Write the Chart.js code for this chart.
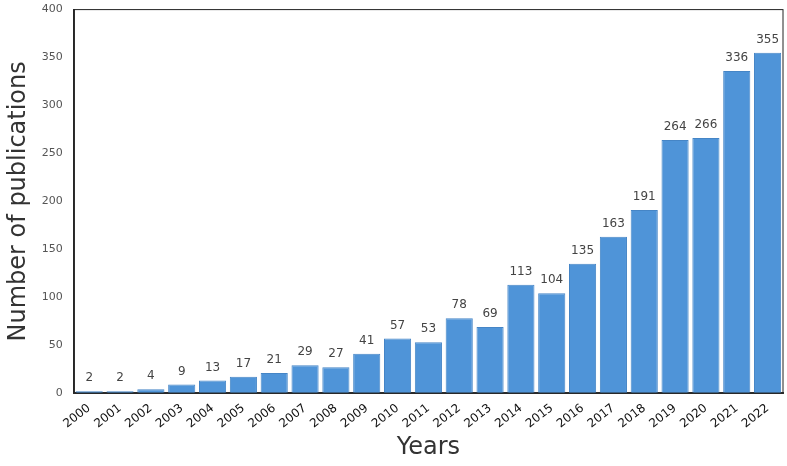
<!DOCTYPE html>
<html><head><meta charset="utf-8">
<script src="https://cdn.jsdelivr.net/npm/chart.js"></script>
<style>html,body{margin:0;padding:0;background:#fff}#w{width:787px;height:466px}</style>
</head><body><div id="w"><canvas id="c"></canvas></div>
<script>
const years=['2000','2001','2002','2003','2004','2005','2006','2007','2008','2009','2010','2011','2012','2013','2014','2015','2016','2017','2018','2019','2020','2021','2022'];
const counts=[2,2,4,9,13,17,21,29,27,41,57,53,78,69,113,104,135,163,191,264,266,336,355];
const labelsPlugin={id:'lbl',afterDatasetsDraw(ch){const ctx=ch.ctx;ctx.save();ctx.font='12px "DejaVu Sans"';ctx.fillStyle='#444';ctx.textAlign='center';ctx.textBaseline='bottom';
ch.getDatasetMeta(0).data.forEach((b,i)=>{ctx.fillText(counts[i],b.x,b.y-7);});ctx.restore();}};
const boxPlugin={id:'box',afterDraw(ch){const a=ch.chartArea,ctx=ch.ctx;ctx.save();ctx.strokeStyle='#222';ctx.lineWidth=1;ctx.strokeRect(a.left,a.top,a.right-a.left,a.bottom-a.top);ctx.restore();}};
new Chart(document.getElementById('c'),{type:'bar',
data:{labels:years,datasets:[{data:counts,backgroundColor:'#4f94d8',borderColor:'#4585c6',borderWidth:1,categoryPercentage:1,barPercentage:0.88}]},
options:{responsive:true,maintainAspectRatio:false,animation:false,
layout:{padding:{top:8,right:4,left:0,bottom:0}},
plugins:{legend:{display:false},tooltip:{enabled:false}},
scales:{
x:{grid:{display:false},border:{color:'#333',width:2},ticks:{color:'#111',font:{size:12,family:'DejaVu Sans'},maxRotation:38,minRotation:38,padding:0},
title:{display:true,text:'Years',color:'#333',font:{size:24,family:'DejaVu Sans'},padding:{top:2}}},
y:{min:0,max:400,ticks:{stepSize:50,color:'#555',font:{size:11,family:'DejaVu Sans'}},grid:{display:false},border:{color:'#333',width:2},
title:{display:true,text:'Number of publications',color:'#333',font:{size:24,family:'DejaVu Sans'},padding:{bottom:6}}}}},
plugins:[labelsPlugin,boxPlugin]});
</script></body></html>
